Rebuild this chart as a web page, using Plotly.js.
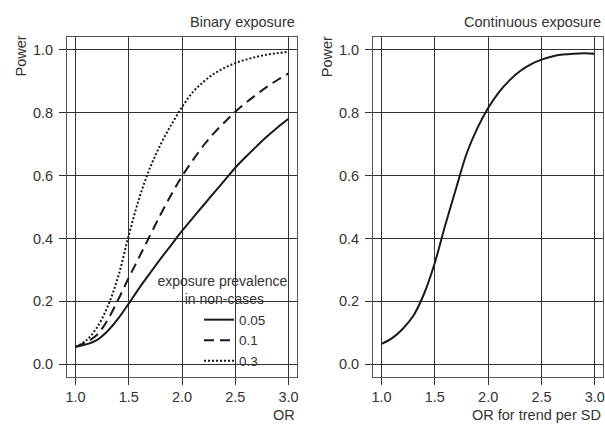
<!DOCTYPE html>
<html>
<head>
<meta charset="utf-8">
<script src="https://cdn.plot.ly/plotly-3.0.1.min.js"></script>
<style>html,body{margin:0;padding:0;background:#fff;}#chart{width:605px;height:425px;}</style>
</head>
<body>
<div id="chart"></div>
<script>
// ---- data ----
const orValues = [1.0,1.1,1.2,1.3,1.4,1.5,1.6,1.7,1.8,1.9,2.0,2.1,2.2,2.3,2.4,2.5,2.6,2.7,2.8,2.9,3.0];
const prevalenceLabels = ['0.05','0.1','0.3'];
const power005 = [0.055,0.063,0.077,0.105,0.145,0.193,0.243,0.290,0.336,0.380,0.424,0.465,0.505,0.545,0.585,0.625,0.660,0.693,0.725,0.754,0.781];
const power01  = [0.055,0.070,0.093,0.140,0.205,0.275,0.342,0.410,0.477,0.540,0.598,0.648,0.695,0.735,0.770,0.803,0.832,0.858,0.883,0.905,0.925];
const power03  = [0.055,0.076,0.116,0.182,0.278,0.410,0.530,0.625,0.700,0.762,0.818,0.865,0.898,0.924,0.943,0.958,0.969,0.978,0.985,0.990,0.994];
const orTrendValues = [1.0,1.1,1.2,1.3,1.4,1.5,1.6,1.7,1.8,1.9,2.0,2.1,2.2,2.3,2.4,2.5,2.6,2.7,2.8,2.9,3.0];
const powerContinuous = [0.065,0.083,0.113,0.155,0.225,0.323,0.445,0.560,0.672,0.752,0.815,0.865,0.903,0.933,0.954,0.969,0.979,0.985,0.988,0.989,0.988];
const xTicks = [1.0,1.5,2.0,2.5,3.0];
const yTicks = [0.0,0.2,0.4,0.6,0.8,1.0];
const panelTitles = ['Binary exposure','Continuous exposure'];
const xTitles = ['OR','OR for trend per SD'];
const yTitle = 'Power';
const legendTitleLines = ['exposure prevalence','in non-cases'];

// ---- styling ----
const FONT = '"Liberation Sans",Arial,sans-serif';
const TXT = '#333';
const LINE = '#1a1a1a';
const GRID = '#333';
const FS = 14.5;
const W = 605, H = 425;
const px = v => v / W, py = v => 1 - v / H;
const NB = '&nbsp;'.repeat(7);

const binarySeries = [power005, power01, power03];
const dashes = ['solid', '10px,6px', '2px,2px'];
const traces = binarySeries.map((ys, i) => ({
  x: orValues, y: ys, type: 'scatter', mode: 'lines',
  name: prevalenceLabels[i], xaxis: 'x', yaxis: 'y',
  line: {color: LINE, width: 2, dash: dashes[i], shape: 'spline'},
  hoverinfo: 'skip'
}));
traces.push({
  x: orTrendValues, y: powerContinuous, type: 'scatter', mode: 'lines',
  name: 'continuous', xaxis: 'x2', yaxis: 'y2', showlegend: false,
  line: {color: LINE, width: 2, shape: 'spline'}, hoverinfo: 'skip'
});

function xax(domain, anchor) {
  return {
    domain: domain, anchor: anchor, range: [0.92, 3.08],
    tickvals: xTicks, ticktext: xTicks.map(v => v.toFixed(1)),
    ticks: 'outside', ticklen: 7, tickcolor: GRID, tickwidth: 1,
    showgrid: true, gridcolor: GRID, gridwidth: 1, zeroline: false,
    showline: true, mirror: true, linecolor: '#555', linewidth: 1,
    tickfont: {family: FONT, size: FS, color: TXT}
  };
}
function yax(anchor) {
  return {
    domain: [py(376.8), py(37.3)], anchor: anchor, range: [-0.04, 1.04],
    tickvals: yTicks, ticktext: yTicks.map(v => v.toFixed(1)),
    ticks: 'outside', ticklen: 7, tickcolor: GRID, tickwidth: 1,
    ticklabelstandoff: 3,
    showgrid: true, gridcolor: GRID, gridwidth: 1, zeroline: false,
    showline: true, mirror: true, linecolor: '#555', linewidth: 1,
    tickfont: {family: FONT, size: FS, color: TXT}
  };
}

const ann = (text, x, y, xanchor, yanchor, angle) => ({
  text: text, x: x, y: y, xref: 'paper', yref: 'paper',
  xanchor: xanchor, yanchor: yanchor, showarrow: false, textangle: angle || 0,
  font: {family: FONT, size: FS, color: TXT}
});

const layout = {
  width: W, height: H,
  margin: {l: 0, r: 0, t: 0, b: 0},
  paper_bgcolor: '#fff', plot_bgcolor: '#fff',
  font: {family: FONT, size: FS, color: TXT},
  xaxis: xax([px(67), px(297)], 'y'),
  yaxis: yax('x'),
  xaxis2: xax([px(373), px(603.3)], 'y2'),
  yaxis2: yax('x2'),
  showlegend: true,
  legend: {
    x: px(155), xanchor: 'left', y: py(268), yanchor: 'top',
    bgcolor: 'rgba(0,0,0,0)', borderwidth: 0,
    title: {text: legendTitleLines[0] + '<br>' + NB + legendTitleLines[1], side: 'top center',
            font: {family: FONT, size: 14, color: TXT}},
    font: {family: FONT, size: 13.5, color: TXT},
    indentation: 44
  },
  annotations: [
    ann(panelTitles[0], px(297), py(22), 'right', 'middle'),
    ann(panelTitles[1], px(603.3), py(22), 'right', 'middle'),
    ann(yTitle, px(20), py(56.5), 'center', 'middle', -90),
    ann(yTitle, px(326.7), py(56.5), 'center', 'middle', -90),
    ann(xTitles[0], px(297), py(425), 'right', 'bottom'),
    ann(xTitles[1], px(603.3), py(425), 'right', 'bottom')
  ]
};

Plotly.newPlot('chart', traces, layout, {staticPlot: true, displayModeBar: false});
</script>
</body>
</html>
